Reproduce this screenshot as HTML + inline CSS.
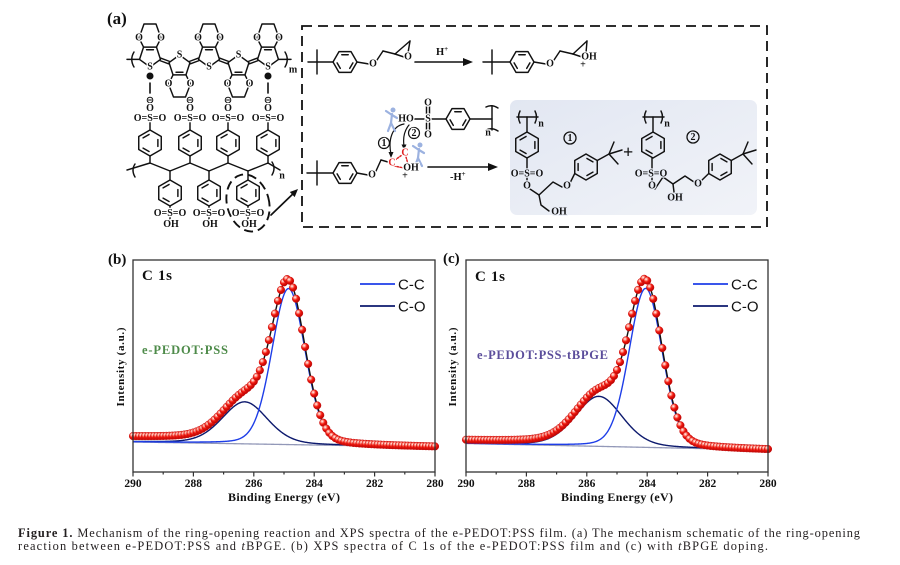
<!DOCTYPE html>
<html><head><meta charset="utf-8">
<style>
html,body{margin:0;padding:0;background:#fff;}
svg{display:block;}
.ct{font-family:"Liberation Serif",serif;font-weight:bold;font-size:10px;text-anchor:middle;dominant-baseline:central;fill:#111;stroke:#fff;stroke-width:2.6;paint-order:stroke;stroke-linejoin:round;}
.hb{stroke:#e9edf6;}
.ax{font-family:"Liberation Serif",serif;font-weight:bold;fill:#111;}
.lg{font-family:"Liberation Sans",sans-serif;font-size:15px;fill:#111;}
.cap{font-family:"Liberation Serif",serif;font-size:12.4px;fill:#231f20;}
</style></head>
<body>
<svg id="s" width="900" height="565" viewBox="0 0 900 565" xmlns="http://www.w3.org/2000/svg">
<defs>
<radialGradient id="dot" cx="0.36" cy="0.32" r="0.72">
<stop offset="0" stop-color="#ffffff"/>
<stop offset="0.22" stop-color="#ff9a8c"/>
<stop offset="0.5" stop-color="#f2180e"/>
<stop offset="1" stop-color="#b20000"/>
</radialGradient>
<linearGradient id="boxg" x1="0" y1="0" x2="1" y2="1">
<stop offset="0" stop-color="#e2e7f2"/>
<stop offset="1" stop-color="#f1f3f8"/>
</linearGradient>
</defs>
<rect width="900" height="565" fill="#fff"/>

<rect x="302" y="26" width="465" height="201" fill="none" stroke="#111" stroke-width="1.8" stroke-dasharray="10 6"/>
<rect x="510" y="100" width="247" height="115" rx="7" fill="url(#boxg)"/>
<ellipse cx="248" cy="203" rx="21" ry="29" transform="rotate(-15 248 203)" fill="none" stroke="#111" stroke-width="1.9" stroke-dasharray="9 5"/>

<g id="chem" fill="none" stroke="#111" stroke-width="1.45" stroke-linecap="round" stroke-linejoin="round"></g>

<g>
<text x="107" y="24" class="ax" font-size="17">(a)</text>
<text class="ct" x="139" y="38">O</text><text class="ct" x="161" y="38">O</text>
<text class="ct" x="198" y="38">O</text><text class="ct" x="220" y="38">O</text>
<text class="ct" x="257" y="38">O</text><text class="ct" x="279" y="38">O</text>
<text class="ct" x="168.5" y="84">O</text><text class="ct" x="190.5" y="84">O</text>
<text class="ct" x="227.5" y="84">O</text><text class="ct" x="249.5" y="84">O</text>
<text class="ct" x="150" y="67">S</text><text class="ct" x="179.5" y="55">S</text>
<text class="ct" x="209" y="67">S</text><text class="ct" x="238.5" y="55">S</text>
<text class="ct" x="268" y="67">S</text>
<text class="ct" x="293" y="70" font-size="8.5">m</text>
<text class="ct" x="150" y="108.5">O</text><text class="ct" x="190" y="108.5">O</text><text class="ct" x="228" y="108.5">O</text><text class="ct" x="268" y="108.5">O</text>
<text class="ct" x="150" y="118.5">O=S=O</text><text class="ct" x="190" y="118.5">O=S=O</text><text class="ct" x="228" y="118.5">O=S=O</text><text class="ct" x="268" y="118.5">O=S=O</text>
<text class="ct" x="282" y="176" font-size="8.5">n</text>
<text class="ct" x="170" y="213.5">O=S=O</text><text class="ct" x="209" y="213.5">O=S=O</text><text class="ct" x="248" y="213.5">O=S=O</text>
<text class="ct" x="171" y="224.5">OH</text><text class="ct" x="210" y="224.5">OH</text><text class="ct" x="249" y="224.5">OH</text>
<text class="ct" x="373" y="64">O</text>
<text class="ct" x="408" y="57">O</text>
<text class="ax" x="436" y="55" font-size="10.5">H<tspan font-size="7" dy="-4">+</tspan></text>
<text class="ct" x="550" y="64">O</text>
<text class="ct" x="589" y="57">OH</text>
<text class="ct" x="583" y="65" font-size="7">+</text>
<text class="ct" x="372" y="175">O</text>
<text class="ct" x="392" y="163" style="fill:#e02020">C</text>
<text class="ct" x="405" y="153" style="fill:#e02020">C</text>
<text class="ct" x="411" y="168">OH</text>
<text class="ct" x="405" y="176" font-size="7">+</text>
<text class="ct" x="406" y="119">HO</text>
<text class="ct" x="428" y="119">S</text>
<text class="ct" x="428" y="103">O</text>
<text class="ct" x="428" y="135">O</text>
<text class="ct" x="488" y="133" font-size="7.5">n</text>
<text class="ax" x="450" y="180" font-size="10.5">-H<tspan font-size="7" dy="-4">+</tspan></text>
<text class="ct" x="384" y="143.5" font-size="8.5">1</text>
<text class="ct" x="414" y="133.5" font-size="8.5">2</text>
<text class="ct hb" x="541" y="124" font-size="8.5">n</text>
<text class="ct hb" x="527" y="174">O=S=O</text>
<text class="ct hb" x="527" y="186">O</text>
<text class="ct hb" x="567" y="186">O</text>
<text class="ct hb" x="559" y="212">OH</text>
<text class="ct hb" x="570" y="138.5" font-size="9.5">1</text>
<text class="ax" x="623" y="158" font-size="18">+</text>
<text class="ct hb" x="667" y="124" font-size="8.5">n</text>
<text class="ct hb" x="651" y="174">O=S=O</text>
<text class="ct hb" x="652" y="186">O</text>
<text class="ct hb" x="675" y="198">OH</text>
<text class="ct hb" x="698" y="184">O</text>
<text class="ct hb" x="693" y="137.5" font-size="9.5">2</text>
</g>

<g id="pb"></g>
<g id="pc"></g>
<rect x="133" y="260" width="302" height="212" fill="none" stroke="#333" stroke-width="1.3"/>
<rect x="466" y="260" width="302" height="212" fill="none" stroke="#333" stroke-width="1.3"/>

<g>
<text class="ax" x="108" y="264" font-size="15">(b)</text>
<text class="ax" x="443" y="263" font-size="15">(c)</text>
<text class="ax" x="142" y="280" font-size="15" textLength="30">C 1s</text>
<text class="ax" x="475" y="281" font-size="15" textLength="30">C 1s</text>
<text class="ax" x="142" y="354" font-size="12.5" style="fill:#4e8b4a" textLength="86">e-PEDOT:PSS</text>
<text class="ax" x="477" y="359" font-size="12.5" style="fill:#5b4d9b" textLength="131">e-PEDOT:PSS-tBPGE</text>
<line x1="360" y1="284" x2="395" y2="284" stroke="#1e3ee8" stroke-width="1.8"/>
<line x1="360" y1="306" x2="395" y2="306" stroke="#0d1a6e" stroke-width="1.8"/>
<text class="lg" x="398" y="289.5">C-C</text>
<text class="lg" x="398" y="311.5">C-O</text>
<line x1="693" y1="284" x2="728" y2="284" stroke="#1e3ee8" stroke-width="1.8"/>
<line x1="693" y1="306" x2="728" y2="306" stroke="#0d1a6e" stroke-width="1.8"/>
<text class="lg" x="731" y="289.5">C-C</text>
<text class="lg" x="731" y="311.5">C-O</text>
<g class="ax" font-size="11.5" text-anchor="middle">
<text x="133" y="487">290</text><text x="193.4" y="487">288</text><text x="253.8" y="487">286</text><text x="314.2" y="487">284</text><text x="374.6" y="487">282</text><text x="435" y="487">280</text>
<text x="466" y="487">290</text><text x="526.4" y="487">288</text><text x="586.8" y="487">286</text><text x="647.2" y="487">284</text><text x="707.6" y="487">282</text><text x="768" y="487">280</text>
</g>
<text class="ax" x="284" y="501" font-size="12" text-anchor="middle" textLength="112">Binding Energy (eV)</text>
<text class="ax" x="617" y="501" font-size="12" text-anchor="middle" textLength="112">Binding Energy (eV)</text>
<text class="ax" font-size="11" text-anchor="middle" dominant-baseline="central" transform="translate(121 367) rotate(-90)" textLength="79">Intensity (a.u.)</text>
<text class="ax" font-size="11" text-anchor="middle" dominant-baseline="central" transform="translate(453 367) rotate(-90)" textLength="79">Intensity (a.u.)</text>
</g>

<text class="cap" x="18" y="537" textLength="842" lengthAdjust="spacing"><tspan font-weight="bold">Figure 1.</tspan> Mechanism of the ring-opening reaction and XPS spectra of the e-PEDOT:PSS film. (a) The mechanism schematic of the ring-opening</text>
<text class="cap" x="18" y="550" textLength="750" lengthAdjust="spacing">reaction between e-PEDOT:PSS and <tspan font-style="italic">t</tspan>BPGE. (b) XPS spectra of C 1s of the e-PEDOT:PSS film and (c) with <tspan font-style="italic">t</tspan>BPGE doping.</text>
</svg>

<script>
(function(){
const NS='http://www.w3.org/2000/svg';
function el(p,t,a){const e=document.createElementNS(NS,t);for(const k in a)e.setAttribute(k,a[k]);p.appendChild(e);return e;}
const C=document.getElementById('chem');
function L(x1,y1,x2,y2,ex){return el(C,'line',Object.assign({x1:x1,y1:y1,x2:x2,y2:y2},ex||{}));}
function P(pts,ex){return el(C,'polyline',Object.assign({points:pts.map(p=>p[0].toFixed(2)+','+p[1].toFixed(2)).join(' ')},ex||{}));}
function ring(cx,cy,r,rot,n,inner){
  const v=[];for(let i=0;i<n;i++){const a=(rot+i*360/n)*Math.PI/180;v.push([cx+r*Math.cos(a),cy+r*Math.sin(a)]);}
  el(C,'polygon',{points:v.map(p=>p[0].toFixed(2)+','+p[1].toFixed(2)).join(' ')});
  (inner||[]).forEach(i=>{const a=v[i],b=v[(i+1)%n],k=0.7;
    const a2=[cx+(a[0]-cx)*k,cy+(a[1]-cy)*k],b2=[cx+(b[0]-cx)*k,cy+(b[1]-cy)*k],t=0.12;
    L(a2[0]+(b2[0]-a2[0])*t,a2[1]+(b2[1]-a2[1])*t,a2[0]+(b2[0]-a2[0])*(1-t),a2[1]+(b2[1]-a2[1])*(1-t));});
  return v;}
function dbl(a,b,d){const dx=b[0]-a[0],dy=b[1]-a[1],l=Math.hypot(dx,dy),nx=-dy/l*d,ny=dx/l*d;
  L(a[0]+nx,a[1]+ny,b[0]+nx,b[1]+ny);L(a[0]-nx,a[1]-ny,b[0]-nx,b[1]-ny);}
function arrow(x1,y1,x2,y2,hl,hw,w){const dx=x2-x1,dy=y2-y1,l=Math.hypot(dx,dy),ux=dx/l,uy=dy/l;
  const bx=x2-ux*hl,by=y2-uy*hl;L(x1,y1,bx+ux*1,by+uy*1,{'stroke-width':w||1.5});
  el(C,'polygon',{points:x2+','+y2+' '+(bx-uy*hw)+','+(by+ux*hw)+' '+(bx+uy*hw)+','+(by-ux*hw),fill:'#111',stroke:'none'});}
function path(d,ex){return el(C,'path',Object.assign({d:d},ex||{}));}

const units=[[150,56,1],[179.5,66,0],[209,56,1],[238.5,66,0],[268,56,1]];
const V=units.map(u=>{const cx=u[0],cy=u[1],up=u[2];
  const v=ring(cx,cy,11,up?90:-90,5,[2]);
  if(up)P([v[2],[cx-11,cy-18],[cx-6,cy-32],[cx+6,cy-32],[cx+11,cy-18],v[3]]);
  else P([v[3],[cx-11,cy+18],[cx-6,cy+31],[cx+6,cy+31],[cx+11,cy+18],v[2]]);
  return v;});
dbl(V[0][4],V[1][4],1.3);dbl(V[1][1],V[2][1],1.3);dbl(V[2][4],V[3][4],1.3);dbl(V[3][1],V[4][1],1.3);
L(V[0][1][0],V[0][1][1],127,59.4);L(V[4][4][0],V[4][4][1],291,59.4);
path('M134,52 Q129.5,59.4 134,67');path('M285,52 Q289.5,59.4 285,67');
[150,268].forEach(x=>{el(C,'circle',{cx:x,cy:76,r:2.8,fill:'#111'});L(x,83,x,93,{'stroke-width':1.6});});
[150,190,228,268].forEach(x=>{el(C,'circle',{cx:x,cy:100,r:2.8,'stroke-width':1});L(x-1.5,100,x+1.5,100,{'stroke-width':1});
  L(x,122.5,x,130);ring(x,143,13,-90,6,[1,3,5]);L(x,156,x,163);});
P([[127,170],[150,163],[170,171],[190,163],[209,171],[228,163],[248,171],[268,163],[280,170]]);
path('M135,164 Q131,170 135,177');path('M272,162 Q276,168 272,175');
[170,209,248].forEach(x=>{L(x,171,x,180);ring(x,193,13,-90,6,[1,3,5]);L(x,206,x,209);L(x,217,x,219);});
arrow(271,215,298,189,8,3.5,1.7);

function tbuCross(x,y,xl,xr){L(xl,y,xr,y);L(x,y-12,x,y+12);}
tbuCross(317,62,308,333);ring(345,62,12,0,6,[0,2,4]);
L(357,62,369,64);L(377,60,383,51);L(383,51,395,54);
L(395,54,410,41);L(410,41,408,53);L(395,54,404,57);
arrow(415,62,473,62,10,4,1.6);
tbuCross(492,62,483,510);ring(522,62,12,0,6,[0,2,4]);
L(534,62,546,64);L(554,60,560,51);L(560,51,573,54);
L(573,54,587,41);L(587,41,586,53);L(573,54,582,57);

tbuCross(317,173,307,333);ring(345,173,12,0,6,[0,2,4]);
L(357,173,368,175);L(376,171,381,160);L(381,160,388,162);
L(395,160,402,155,{stroke:'#d22','stroke-dasharray':'1.5 1.5'});
L(394,166,404,168,{stroke:'#d22','stroke-dasharray':'1.5 1.5'});
L(406,157,408,164,{stroke:'#d22','stroke-dasharray':'1.5 1.5'});
L(413,119,424,119);
L(426.5,106,426.5,115);L(429.5,106,429.5,115);L(426.5,123,426.5,132);L(429.5,123,429.5,132);
L(432,119,446,119);ring(458,119,12,0,6,[0,2,4]);L(470,119,492,119);
L(492,106,492,130);path('M486,107 Q492,104 498,108');path('M486,130 Q492,127 498,131');
path('M404,124 C392,126 388,140 391,154',{'stroke-width':1.2});
el(C,'polygon',{points:'391,158 388.5,152 393.5,152',fill:'#111',stroke:'none'});
path('M409,125 C404,131 403,139 404,146',{'stroke-width':1.2});
el(C,'polygon',{points:'404,150 401.5,144.5 406.5,144.5',fill:'#111',stroke:'none'});
el(C,'circle',{cx:384,cy:143,r:5.5,fill:'#fff','stroke-width':1.2});
el(C,'circle',{cx:414,cy:133,r:5.5,fill:'#fff','stroke-width':1.2});
function person(x,y){const s={stroke:'#9cb2e0','stroke-width':2.2};
  el(C,'circle',{cx:x+1,cy:y-10,r:2.5,fill:'#9cb2e0',stroke:'none'});
  L(x,y-6,x-1,y+3,s);L(x-1,y+3,x-4,y+11,s);L(x-1,y+3,x+3,y+11,s);
  L(x,y-5,x-6,y-9,s);L(x,y-5,x+5,y-2,s);}
person(392,120);person(419,155);
arrow(428,167,498,167,10,4,1.6);

L(517,117,538,117);path('M520,111 Q517,117 520,123');path('M535,111 Q538,117 535,123');
L(527,117,527,132);ring(527,145,13,-90,6,[1,3,5]);L(527,158,527,169);L(527,178,527,182);
P([[530,189],[539,195],[553,182],[562,187]]);
P([[539,195],[541,205],[549,211]]);
const b1=ring(586,167,13,-90,6,[0,2,4]);L(570,183,b1[4][0],b1[4][1]);
L(b1[1][0],b1[1][1],609,154);L(609,154,614,142);L(609,154,622,150);L(609,154,618,164);
el(C,'circle',{cx:570,cy:138,r:6,fill:'none','stroke-width':1.3});
L(643,117,664,117);path('M646,111 Q643,117 646,123');path('M661,111 Q664,117 661,123');
L(653,117,653,132);ring(653,145,13,-90,6,[1,3,5]);L(652,158,652,169);L(652,178,652,182);
P([[655,189],[663,177],[673,184],[685,176],[694,182]]);
L(673,184,674,192);
const b2=ring(720,167,13,-90,6,[0,2,4]);L(701,181,b2[4][0],b2[4][1]);
L(b2[1][0],b2[1][1],743,154);L(743,154,748,142);L(743,154,756,150);L(743,154,752,164);
el(C,'circle',{cx:693,cy:137,r:6,fill:'none','stroke-width':1.3});

function pv(e,c,A,w,m){const u=(e-c)/w;return A*((1-m)*Math.exp(-Math.LN2*u*u)+m/(1+u*u));}
function plot(cfg){
  const G=document.getElementById(cfg.id);
  const X=e=>cfg.x0+(290-e)*30.2;
  const bg=e=>cfg.gR+(e-280)*(cfg.gL-cfg.gR)/10;
  const cc=e=>pv(e,cfg.c1,cfg.A1,cfg.w1,0.15);
  const co=e=>pv(e,cfg.c2,cfg.A2,cfg.w2,0.25);
  const sh=e=>cfg.s/(1+Math.exp(-(e-cfg.sc)/0.8));
  const tot=e=>bg(e)-cc(e)-co(e)-sh(e);
  function curve(f,col,w){let d='';for(let i=0;i<=500;i++){const e=290-i*0.02;d+=(i?'L':'M')+X(e).toFixed(2)+','+f(e).toFixed(2);}
    el(G,'path',{d:d,fill:'none',stroke:col,'stroke-width':w});}
  curve(bg,'#9298b8',1.3);
  curve(e=>bg(e)-co(e),'#0d1a6e',1.4);
  curve(e=>bg(e)-cc(e),'#1e3ee8',1.4);
  curve(tot,'#111',1.4);
  for(let i=0;i<=100;i++){const e=290-i*0.1;
    el(G,'circle',{cx:X(e).toFixed(2),cy:tot(e).toFixed(2),r:3.8,fill:'url(#dot)',stroke:'#c81212','stroke-width':0.5});}
  for(let k=0;k<=10;k++){const x=X(290-k);el(G,'line',{x1:x,y1:472,x2:x,y2:k%2?474.5:476.5,stroke:'#333','stroke-width':1.2});}
}
plot({id:'pb',x0:133,gL:442,gR:447,c1:284.85,A1:156,w1:0.65,c2:286.3,A2:42,w2:0.89,s:5,sc:285.6});
plot({id:'pc',x0:466,gL:443.5,gR:450,c1:284.05,A1:159,w1:0.65,c2:285.6,A2:50,w2:0.92,s:3,sc:284.8});
})();
</script>
</body></html>
